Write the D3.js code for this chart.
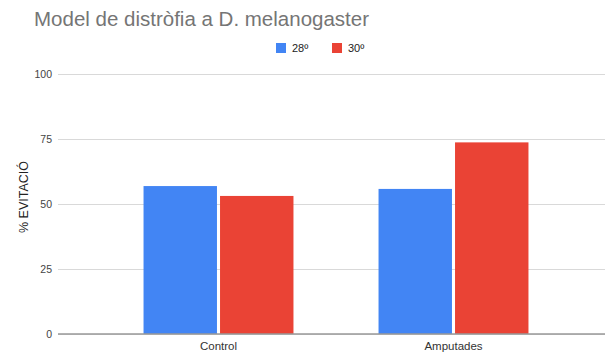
<!DOCTYPE html>
<html><head><meta charset="utf-8">
<script src="https://cdn.jsdelivr.net/npm/d3@7"></script>
<style>body{margin:0;background:#fff;} svg{display:block;font-family:Arial,"Liberation Sans",sans-serif;}</style>
</head><body>
<svg id="c" width="605" height="355"></svg>
<script>
const categories = ["Control", "Amputades"];
const seriesNames = ["28º", "30º"];
const values28 = [56.9, 55.8];
const values30 = [53.1, 73.7];
const yTicks = [0, 25, 50, 75, 100];
const colors = ["#4285F4", "#EA4335"];

const svg = d3.select("#c");
const W = 605, H = 355;
const y = d3.scaleLinear().domain([0, 100]).range([334, 74]);
const x0 = d3.scaleBand().domain(categories).range([101, 571]).paddingInner(0.362).paddingOuter(0.181);
const x1 = d3.scaleBand().domain(seriesNames).range([0, x0.bandwidth()]).paddingInner(0.04);

// gridlines
const yAxis = d3.axisLeft(y).tickValues(yTicks).tickSize(-(W - 58)).tickPadding(8);
const gy = svg.append("g").attr("transform", "translate(58,0)").call(yAxis);
gy.select(".domain").remove();
gy.selectAll(".tick line").attr("stroke", "#d9d9d9").attr("stroke-width", 1);
gy.selectAll(".tick text").attr("fill", "#444").attr("font-size", 10.5).attr("x", -6);

const data = categories.map((c, i) => ({cat: c, vals: [values28[i], values30[i]]}));
const groups = svg.append("g").selectAll("g").data(data).join("g")
  .attr("transform", d => `translate(${x0(d.cat)},0)`);
groups.selectAll("rect").data(d => d.vals.map((v, j) => ({s: seriesNames[j], v, j})))
  .join("rect")
  .attr("x", d => x1(d.s))
  .attr("width", x1.bandwidth())
  .attr("y", d => y(d.v))
  .attr("height", d => y(0) - y(d.v))
  .attr("fill", d => colors[d.j]);

// baseline
svg.append("line").attr("x1", 58).attr("x2", W).attr("y1", y(0)).attr("y2", y(0))
  .attr("stroke", "#999").attr("stroke-width", 1.5);

// x axis labels
const xAxis = d3.axisBottom(x0).tickSize(0).tickPadding(8);
const gx = svg.append("g").attr("transform", `translate(0,${y(0)})`).call(xAxis);
gx.select(".domain").remove();
gx.selectAll(".tick text").attr("fill", "#333").attr("font-size", 11.5);

// title
svg.append("text").attr("x", 34).attr("y", 25.5).attr("fill", "#757575")
  .attr("font-size", 20.5).text("Model de distròfia a D. melanogaster");

// y label
svg.append("text").attr("transform", "translate(28,197) rotate(-90)")
  .attr("text-anchor", "middle").attr("fill", "#222").attr("font-size", 12.5)
  .text("% EVITACIÓ");

// legend
const legX = [276, 332];
const leg = svg.append("g").selectAll("g").data(seriesNames).join("g")
  .attr("transform", (d, i) => `translate(${legX[i]},43)`);
leg.append("rect").attr("width", 10).attr("height", 10).attr("fill", (d, i) => colors[i]);
leg.append("text").attr("x", 16).attr("y", 9).attr("font-size", 11).attr("fill", "#222").text(d => d);
</script>
</body></html>
